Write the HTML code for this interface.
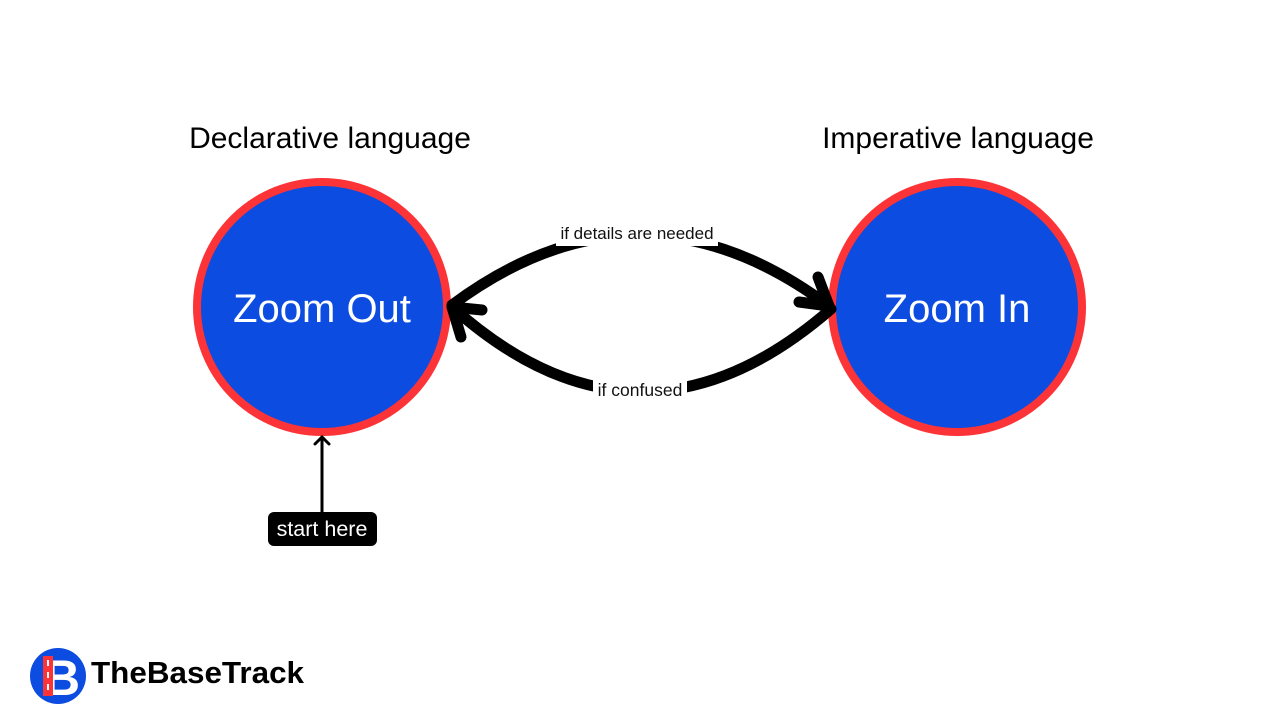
<!DOCTYPE html>
<html><head><meta charset="utf-8"><style>
html,body{margin:0;padding:0;background:#fff;}
body{width:1280px;height:720px;overflow:hidden;font-family:"Liberation Sans",sans-serif;}
</style></head><body>
<svg width="1280" height="720" viewBox="0 0 1280 720" xmlns="http://www.w3.org/2000/svg" style="position:absolute;left:0;top:0">
<text x="330" y="148" font-size="30" text-anchor="middle" fill="#000" font-family="Liberation Sans, sans-serif">Declarative language</text>
<text x="958" y="148" font-size="30" text-anchor="middle" fill="#000" font-family="Liberation Sans, sans-serif">Imperative language</text>
<circle cx="322" cy="307" r="125" fill="#0c4ce0" stroke="#fc3438" stroke-width="8"/>
<circle cx="957" cy="307" r="125" fill="#0c4ce0" stroke="#fc3438" stroke-width="8"/>
<text x="322" y="322" font-size="40" text-anchor="middle" fill="#fff" font-family="Liberation Sans, sans-serif">Zoom Out</text>
<text x="957" y="322" font-size="40" text-anchor="middle" fill="#fff" font-family="Liberation Sans, sans-serif">Zoom In</text>
<g fill="none" stroke="#000" stroke-width="11" stroke-linecap="round" stroke-linejoin="round">
<path d="M452,305 Q640,165 829,306"/>
<path d="M818,277 L829,306 L799,302"/>
<path d="M831,309 Q640,475 452,307"/>
<path d="M461,337 L452,307 L482,310"/>
</g>
<rect x="556" y="222" width="162" height="24" fill="#fff"/>
<text x="637" y="239" font-size="17" text-anchor="middle" fill="#111" font-family="Liberation Sans, sans-serif">if details are needed</text>
<rect x="593" y="376" width="94" height="26" fill="#fff"/>
<text x="640" y="396" font-size="17.5" text-anchor="middle" fill="#111" font-family="Liberation Sans, sans-serif">if confused</text>
<g stroke="#000" stroke-width="3" fill="none" stroke-linecap="round" stroke-linejoin="round">
<line x1="322" y1="513" x2="322" y2="437"/>
<path d="M315,444 L322,437 L329,444"/>
</g>
<rect x="268" y="512" width="109" height="34" rx="6" fill="#000"/>
<text x="322" y="536" font-size="21.5" text-anchor="middle" fill="#fff" font-family="Liberation Sans, sans-serif">start here</text>
<circle cx="58" cy="676" r="28" fill="#0c4ce0"/>
<text x="62" y="695" font-size="50" font-weight="bold" text-anchor="middle" fill="#fff" font-family="Liberation Sans, sans-serif">B</text>
<rect x="43" y="656" width="10" height="40" fill="#fc3438"/>
<rect x="47" y="660" width="2" height="6" fill="#fff"/>
<rect x="47" y="672" width="2" height="6" fill="#fff"/>
<rect x="47" y="684" width="2" height="6" fill="#fff"/>
<text x="91" y="683" font-size="31" font-weight="bold" fill="#000" font-family="Liberation Sans, sans-serif" textLength="213" lengthAdjust="spacingAndGlyphs">TheBaseTrack</text>
</svg>
</body></html>
